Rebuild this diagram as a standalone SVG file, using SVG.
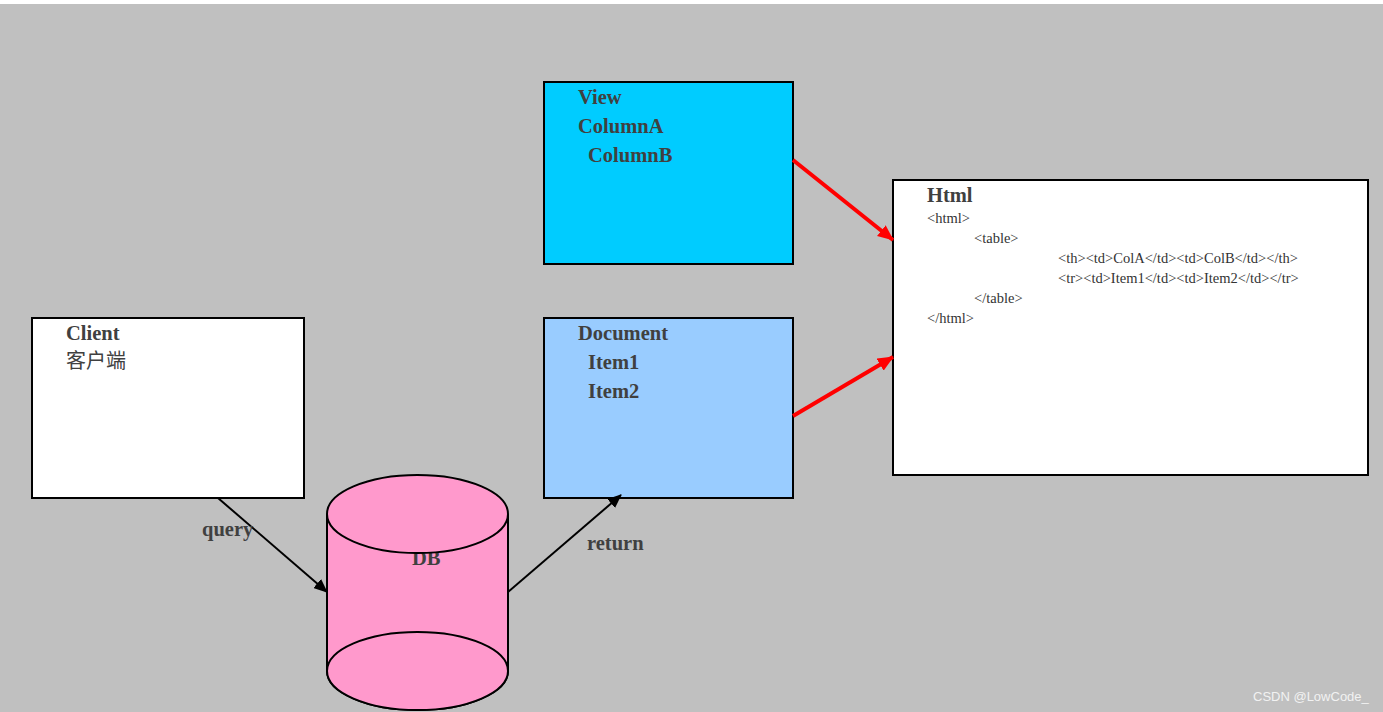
<svg xmlns="http://www.w3.org/2000/svg" width="1383" height="712" viewBox="0 0 1383 712">
<defs>
<style>
.box{stroke:#000;stroke-width:2}
.t{font-family:"Liberation Serif","Times New Roman",serif;font-weight:bold;font-size:20.5px;fill:#404040}
.c{font-family:"Liberation Serif","Noto Sans CJK SC",serif;font-size:20px;fill:#404040}
.s{font-family:"Liberation Serif","Times New Roman",serif;font-size:14.5px;fill:#333}
.blk{stroke:#000;stroke-width:2;fill:none}
.red{stroke:#ff0000;stroke-width:4;fill:none}
.wm{font-family:"Liberation Sans",Arial,sans-serif;font-size:13px;fill:#f2f2f2}
</style>
<marker id="ab" markerUnits="userSpaceOnUse" markerWidth="14" markerHeight="12" refX="13" refY="6" orient="auto">
<path d="M0,0 L14,6 L0,12 z" fill="#000"/>
</marker>
<marker id="ar" markerUnits="userSpaceOnUse" markerWidth="16" markerHeight="14" refX="15" refY="7" orient="auto">
<path d="M0,0 L16,7 L0,14 z" fill="#ff0000"/>
</marker>
</defs>
<rect x="0" y="0" width="1383" height="712" fill="#ffffff"/>
<rect x="0" y="4" width="1383" height="708" fill="#c0c0c0"/>

<g id="view">
<rect class="box" x="544" y="82" width="249" height="182" fill="#00ccff"/>
<text class="t" x="578" y="104">View</text>
<text class="t" x="578" y="133">ColumnA</text>
<text class="t" x="588" y="162">ColumnB</text>
</g>

<g id="document">
<rect class="box" x="544" y="318" width="249" height="180" fill="#99ccff"/>
<text class="t" x="578" y="340">Document</text>
<text class="t" x="588" y="369">Item1</text>
<text class="t" x="588" y="398">Item2</text>
</g>

<g id="client">
<rect class="box" x="32" y="318" width="272" height="180" fill="#ffffff"/>
<text class="t" x="66" y="340">Client</text>
<text class="c" x="66" y="368">客户端</text>
</g>

<g id="html">
<rect class="box" x="893" y="180" width="475" height="295" fill="#ffffff"/>
<text class="t" x="927" y="202">Html</text>
<text class="s" x="927" y="223">&lt;html&gt;</text>
<text class="s" x="974" y="243">&lt;table&gt;</text>
<text class="s" x="1058" y="263">&lt;th&gt;&lt;td&gt;ColA&lt;/td&gt;&lt;td&gt;ColB&lt;/td&gt;&lt;/th&gt;</text>
<text class="s" x="1058" y="283">&lt;tr&gt;&lt;td&gt;Item1&lt;/td&gt;&lt;td&gt;Item2&lt;/td&gt;&lt;/tr&gt;</text>
<text class="s" x="974" y="303">&lt;/table&gt;</text>
<text class="s" x="927" y="323">&lt;/html&gt;</text>
</g>

<g id="db">
<path class="box" d="M327,514 L327,671 A90.5,39 0 0 0 508,671 L508,514" fill="#ff99cc"/>
<ellipse class="box" cx="417.5" cy="671" rx="90.5" ry="39" fill="#ff99cc"/>
<text class="t" x="412" y="565">DB</text>
<ellipse class="box" cx="417.5" cy="514" rx="90.5" ry="39" fill="#ff99cc"/>
</g>

<g id="connectors">
<line class="blk" x1="218" y1="498" x2="327" y2="592" marker-end="url(#ab)"/>
<text class="t" x="202" y="536">query</text>
<line class="blk" x1="508" y1="592" x2="621" y2="495" marker-end="url(#ab)"/>
<text class="t" x="587" y="550">return</text>
<line class="red" x1="793" y1="160" x2="893" y2="240" marker-end="url(#ar)"/>
<line class="red" x1="793" y1="416" x2="893" y2="357" marker-end="url(#ar)"/>
</g>

<text class="wm" x="1253" y="701">CSDN @LowCode_</text>
</svg>
